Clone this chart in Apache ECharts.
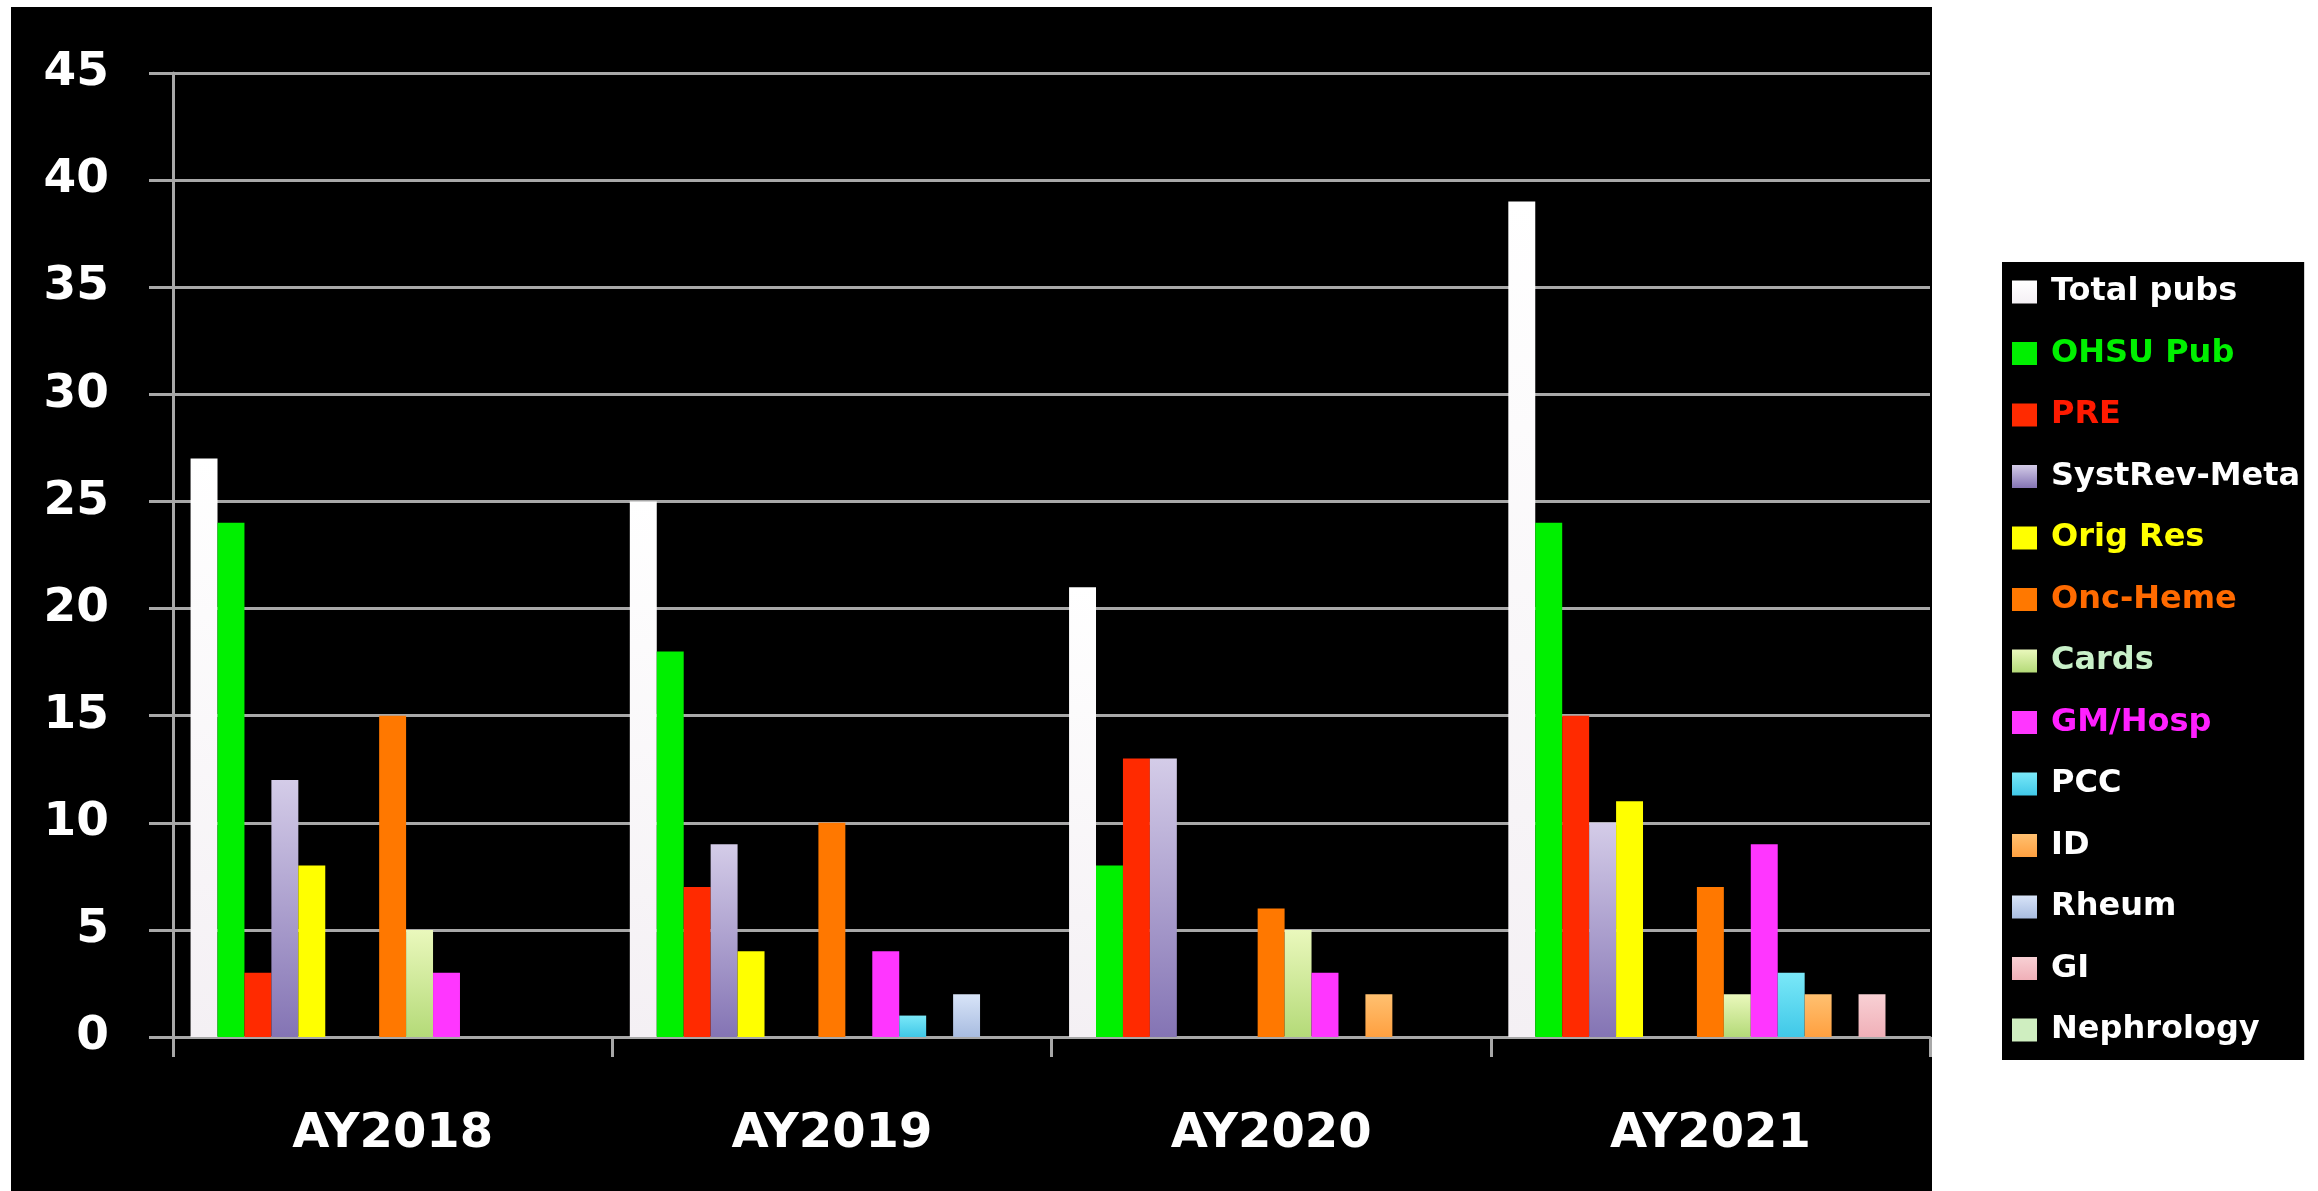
<!DOCTYPE html>
<html>
<head>
<meta charset="utf-8">
<script src="https://cdn.jsdelivr.net/npm/echarts@6/dist/echarts.min.js"></script>
<style>
  html, body { margin: 0; padding: 0; background: #fff; }
  .panel { position: absolute; left: 11px; top: 7px; width: 1921px; height: 1184px; background: #000; }
  #chart { position: absolute; left: 0; top: 0; width: 2318px; height: 1191px; }
</style>
</head>
<body>
<div class="panel"></div>
<div id="chart"></div>
<script>
// data
const categories = ["AY2018", "AY2019", "AY2020", "AY2021"];
const totalPubs = [27, 25, 21, 39];
const ohsuPub = [24, 18, 8, 24];
const pre = [3, 7, 13, 15];
const systRevMeta = [12, 9, 13, 10];
const origRes = [8, 4, 0, 11];
const unlabeledA = [0, 0, 0, 0]; // two empty slots in the original chart
const unlabeledB = [0, 0, 0, 0];
const oncHeme = [15, 10, 6, 7];
const cards = [5, 0, 5, 2];
const gmHosp = [3, 4, 3, 9];
const pcc = [0, 1, 0, 3];
const idPubs = [0, 0, 2, 2];
const rheum = [0, 2, 0, 0];
const gi = [0, 0, 0, 2];
const nephrology = [0, 0, 0, 0];
const yMax = 45;
const yStep = 5;

const font = "DejaVu Sans";

const grad = (top, bottom) =>
  new echarts.graphic.LinearGradient(0, 0, 0, 1, [
    { offset: 0, color: top },
    { offset: 1, color: bottom },
  ]);

// name, values, bar colour, legend text colour
const seriesDefs = [
  ["Total pubs", totalPubs, grad("#ffffff", "#f4f0f4"), "#ffffff"],
  ["OHSU Pub", ohsuPub, "#00f000", "#00f000"],
  ["PRE", pre, "#ff2a00", "#ff1a00"],
  ["SystRev-Meta", systRevMeta, grad("#d4cce8", "#8474b4"), "#ffffff"],
  ["Orig Res", origRes, "#ffff00", "#ffff00"],
  ["unlabeledA", unlabeledA, "#000", null],
  ["unlabeledB", unlabeledB, "#000", null],
  ["Onc-Heme", oncHeme, "#ff7800", "#ff6a00"],
  ["Cards", cards, grad("#eaf8bc", "#b4da78"), "#c8f0c8"],
  ["GM/Hosp", gmHosp, "#ff36ff", "#ff20ff"],
  ["PCC", pcc, grad("#7ae8f8", "#40c8e8"), "#ffffff"],
  ["ID", idPubs, grad("#ffc070", "#ffa040"), "#ffffff"],
  ["Rheum", rheum, grad("#d8e4f8", "#a8bce0"), "#ffffff"],
  ["GI", gi, grad("#f8d0d4", "#f0b0b8"), "#ffffff"],
  ["Nephrology", nephrology, "#cfeec0", "#ffffff"],
];

const myChart = echarts.init(document.getElementById("chart"));

const option = {
  animation: false,
  backgroundColor: "transparent",
  textStyle: { fontFamily: font },
  grid: { left: 173, right: 388, top: 73, bottom: 154 },
  legend: {
    orient: "vertical",
    left: 2002,
    top: 262,
    backgroundColor: "#000",
    padding: [10, 4, 10, 10],
    icon: "rect",
    itemWidth: 25,
    itemHeight: 23,
    itemGap: 21.5,
    selectedMode: false,
    textStyle: {
      fontFamily: font,
      fontWeight: "bold",
      fontSize: 32,
      lineHeight: 40,
      padding: [0, 0, 0, 9],
    },
    data: seriesDefs
      .filter((d) => d[3])
      .map((d) => ({ name: d[0], textStyle: { color: d[3] } })),
  },
  xAxis: {
    type: "category",
    data: categories,
    axisLine: { lineStyle: { color: "#a8a8a8", width: 3 } },
    axisTick: { show: true, length: 20, lineStyle: { color: "#a8a8a8", width: 3 } },
    axisLabel: {
      color: "#ffffff",
      fontFamily: font,
      fontWeight: "bold",
      fontSize: 48,
      margin: 74,
    },
  },
  yAxis: {
    type: "value",
    min: 0,
    max: yMax,
    interval: yStep,
    axisLine: { show: true, lineStyle: { color: "#a8a8a8", width: 3 } },
    axisTick: { show: true, length: 24, lineStyle: { color: "#a8a8a8", width: 3 } },
    splitLine: { lineStyle: { color: "#a8a8a8", width: 3 } },
    axisLabel: {
      color: "#ffffff",
      fontFamily: font,
      fontWeight: "bold",
      fontSize: 47,
      margin: 64,
      padding: [14, 0, 0, 0],
    },
  },
  series: seriesDefs.map((d) => ({
    name: d[0],
    type: "bar",
    data: d[1],
    barGap: "0%",
    barCategoryGap: "8%",
    itemStyle: { color: d[2] },
  })),
};

myChart.setOption(option);
</script>
</body>
</html>
